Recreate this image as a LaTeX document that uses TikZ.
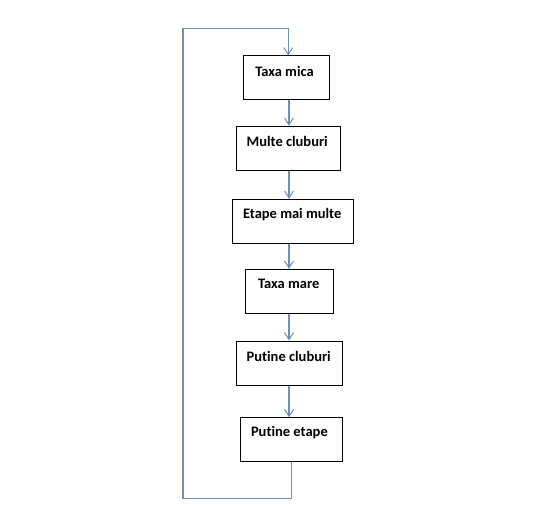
\documentclass[tikz,border=0pt]{standalone}
\usepackage{fontspec}
\setmainfont[Ligatures={NoCommon}]{Carlito}
\usetikzlibrary{arrows.meta,calc}
\definecolor{flow}{HTML}{6A90C0}
\begin{document}
\begin{tikzpicture}[x=1pt,y=-1pt,
  box/.style={draw=black,line width=1pt,fill=white,inner sep=0pt},
  lbl/.style={font=\fontsize{14.5}{17}\selectfont\bfseries,inner sep=0pt},
  conn/.style={draw=flow,line width=1.1pt},
  arr/.style={conn,-{Straight Barb[length=7pt,width=9pt,line width=1pt]}}]
\useasboundingbox (0,0) rectangle (559,505);
\fill[white] (0,0) rectangle (559,505);
\coordinate (ax) at (289,0);
\node[box,minimum width=86,minimum height=44] (b1) at (286.5,78) {};
\node[box,minimum width=104,minimum height=44] (b2) at (288.7,148.3) {};
\node[box,minimum width=121.5,minimum height=44] (b3) at (293.2,221.3) {};
\node[box,minimum width=87.5,minimum height=44] (b4) at (289.7,291.3) {};
\node[box,minimum width=106,minimum height=44] (b5) at (289.7,363) {};
\node[box,minimum width=102.5,minimum height=43.5] (b6) at (291.4,439.5) {};
\node[lbl] (t1) at ($(b1.north)+(-2,15.5)$) {Taxa mica};
\node[lbl] (t2) at ($(b2.north)+(-1.5,15.5)$) {Multe cluburi};
\node[lbl] (t3) at ($(b3.north)+(-1,15.5)$) {Etape mai multe};
\node[lbl] (t4) at ($(b4.north)+(-1,15.5)$) {Taxa mare};
\node[lbl] (t5) at ($(b5.north)+(-1,15.5)$) {Putine cluburi};
\node[lbl] (t6) at ($(b6.north)+(-2,15.5)$) {Putine etape};
\draw[arr] (b1.south -| ax) -- (b2.north -| ax);
\draw[arr] (b2.south -| ax) -- (b3.north -| ax);
\draw[arr] (b3.south -| ax) -- (b4.north -| ax);
\draw[arr] (b4.south -| ax) -- (b5.north -| ax);
\draw[arr] (b5.south -| ax) -- (b6.north -| ax);
\coordinate (c1) at (291.5,498.5);
\coordinate (c2) at (183,498.5);
\coordinate (c3) at (183,28.3);
\coordinate (c4) at (288.3,28.3);
\draw[conn] (b6.south -| c1) -- (c1) -- (c2) -- (c3) -- (c4);
\draw[arr] (c4) -- (b1.north -| c4);
\end{tikzpicture}
\end{document}
